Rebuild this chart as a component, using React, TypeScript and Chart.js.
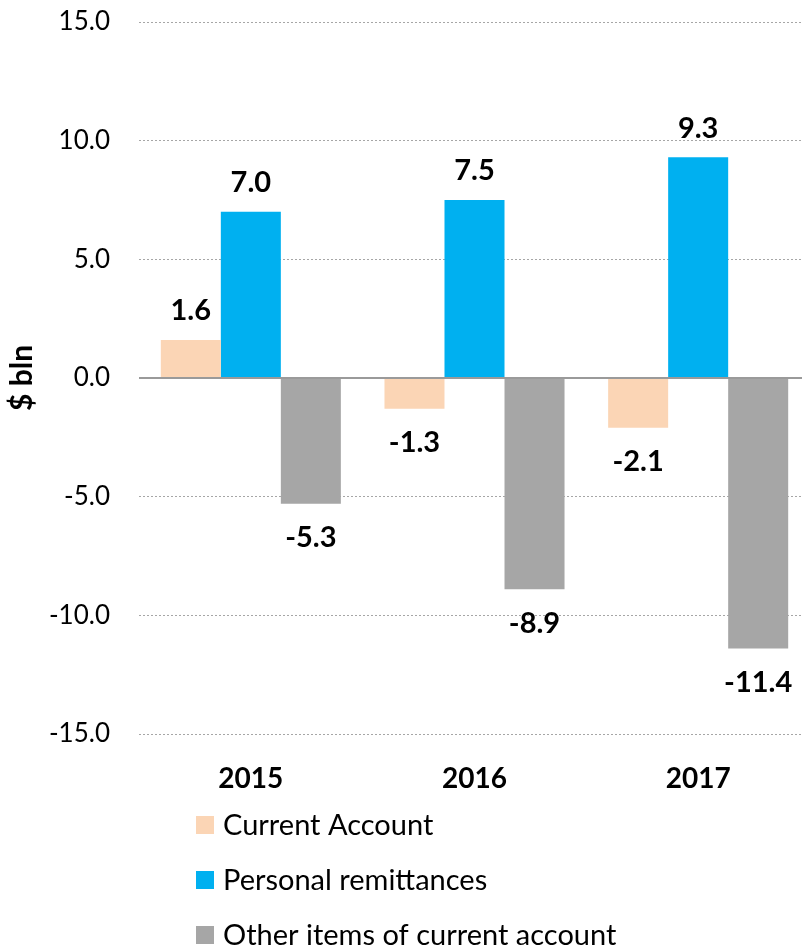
import React, { useEffect, useRef } from "react";
import { Chart, registerables } from "chart.js";

Chart.register(...registerables);

const categories = ["2015", "2016", "2017"];
const currentAccount = [1.6, -1.3, -2.1];
const personalRemittances = [7.0, 7.5, 9.3];
const otherItems = [-5.3, -8.9, -11.4];
const seriesLabels = ["Current Account", "Personal remittances", "Other items of current account"];
const seriesColors = ["#FBD5B5", "#00B0F0", "#A6A6A6"];
const yMin = -15;
const yMax = 15;
const yStep = 5;
const yTitle = "$ bln";

const FONT = "Lato, 'Open Sans', sans-serif";

const zeroLinePlugin = {
  id: "zeroLine",
  afterDatasetsDraw(chart: any) {
    const { ctx, chartArea, scales } = chart;
    const y = scales.y.getPixelForValue(0);
    ctx.save();
    ctx.strokeStyle = "#9a9a9a";
    ctx.lineWidth = 2;
    ctx.beginPath();
    ctx.moveTo(chartArea.left, y);
    ctx.lineTo(chartArea.right, y);
    ctx.stroke();
    ctx.restore();
  },
};

const dataLabelPlugin = {
  id: "dataLabels",
  afterDatasetsDraw(chart: any) {
    const { ctx } = chart;
    ctx.save();
    ctx.font = `bold 29px ${FONT}`;
    ctx.fillStyle = "#000";
    ctx.textAlign = "center";
    ctx.textBaseline = "middle";
    chart.data.datasets.forEach((ds: any, i: number) => {
      const meta = chart.getDatasetMeta(i);
      meta.data.forEach((el: any, j: number) => {
        const v = ds.data[j] as number;
        const y = v >= 0 ? el.y - 29 : el.y + 34;
        ctx.fillText(v.toFixed(1), el.x, y);
      });
    });
    ctx.restore();
  },
};

const bottomLegendPlugin = {
  id: "bottomLegend",
  afterDraw(chart: any) {
    const { ctx } = chart;
    ctx.save();
    ctx.font = `29px ${FONT}`;
    ctx.textAlign = "left";
    ctx.textBaseline = "middle";
    chart.data.datasets.forEach((ds: any, i: number) => {
      const cy = 825 + i * 55;
      ctx.fillStyle = ds.backgroundColor;
      ctx.fillRect(196, cy - 9, 18, 18);
      ctx.fillStyle = "#000";
      ctx.fillText(ds.label, 223, cy + 1);
    });
    ctx.restore();
  },
};

export default function App() {
  const ref = useRef<HTMLCanvasElement>(null);
  useEffect(() => {
    if (!ref.current) return;
    const chart = new Chart(ref.current, {
      type: "bar",
      data: {
        labels: categories,
        datasets: [
          { label: seriesLabels[0], data: currentAccount, backgroundColor: seriesColors[0] },
          { label: seriesLabels[1], data: personalRemittances, backgroundColor: seriesColors[1] },
          { label: seriesLabels[2], data: otherItems, backgroundColor: seriesColors[2] },
        ],
      },
      options: {
        animation: false,
        responsive: false,
        devicePixelRatio: 1,
        layout: { padding: { top: 22, left: 0, right: 2, bottom: 153 } },
        datasets: { bar: { barPercentage: 1, categoryPercentage: 0.805 } },
        plugins: { legend: { display: false }, tooltip: { enabled: false } },
        scales: {
          x: {
            grid: { display: false },
            border: { display: false },
            ticks: { color: "#000", font: { family: FONT, size: 28, weight: "bold" }, padding: 20 },
            afterFit(scale: any) {
              scale.height = 60;
              scale.paddingTop = 0;
              scale.paddingBottom = 0;
            },
          },
          y: {
            min: yMin,
            max: yMax,
            grid: {
              drawTicks: false,
              color: (c: any) => (c.tick && c.tick.value === 0 ? "rgba(0,0,0,0)" : "#a6a6a6"),
              lineWidth: 1,
            },
            border: { display: false, dash: [2, 2] },
            ticks: {
              stepSize: yStep,
              color: "#000",
              padding: 29,
              font: { family: FONT, size: 26 },
              callback: (v: any) => Number(v).toFixed(1),
            },
            title: {
              display: true,
              text: yTitle,
              color: "#000",
              font: { family: FONT, size: 30, weight: "bold" },
              padding: { top: 4, bottom: 0 },
            },
            afterFit(scale: any) {
              scale.width = 139;
              scale.paddingTop = 0;
              scale.paddingBottom = 0;
            },
          },
        },
      },
      plugins: [zeroLinePlugin, dataLabelPlugin, bottomLegendPlugin],
    } as any);
    return () => chart.destroy();
  }, []);
  return (
    <div style={{ position: "fixed", left: 0, top: 0, width: 802, height: 947, overflow: "hidden", background: "#fff" }}>
      <canvas ref={ref} width={812} height={947} style={{ display: "block" }} />
    </div>
  );
}
